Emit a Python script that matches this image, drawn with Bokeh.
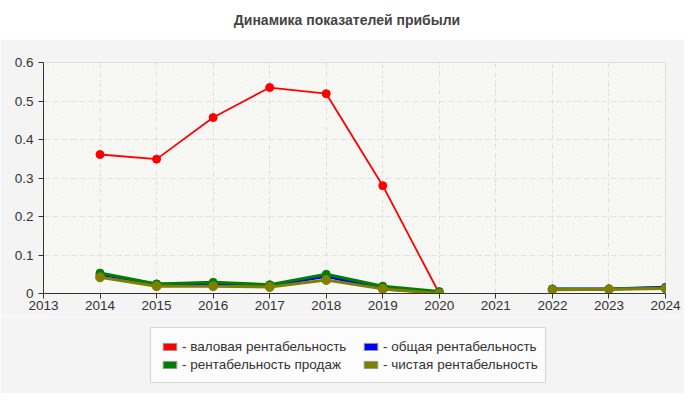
import numpy as np
from bokeh.plotting import figure
from bokeh.models import (ColumnDataSource, FixedTicker, Legend, LegendItem,
                          BoxAnnotation, Div, Range1d)
from bokeh.layouts import column
from bokeh.embed import file_html
from bokeh.resources import INLINE

nan = float("nan")
title_text = "Динамика показателей прибыли"
years = [2014, 2015, 2016, 2017, 2018, 2019, 2020, 2021, 2022, 2023, 2024]
gross = [0.361, 0.349, 0.457, 0.535, 0.519, 0.280, 0.0, nan, nan, nan, nan]
overall = [0.050, 0.024, 0.025, 0.020, 0.045, 0.012, 0.003, nan, 0.012, 0.012, 0.016]
sales = [0.053, 0.025, 0.029, 0.023, 0.050, 0.019, 0.005, nan, 0.011, 0.012, 0.014]
net = [0.042, 0.019, 0.019, 0.017, 0.035, 0.012, 0.0, nan, 0.010, 0.011, 0.013]
x_ticks = [2013, 2014, 2015, 2016, 2017, 2018, 2019, 2020, 2021, 2022, 2023, 2024]
y_ticks = [0, 0.1, 0.2, 0.3, 0.4, 0.5, 0.6]
y_labels = ["0", "0.1", "0.2", "0.3", "0.4", "0.5", "0.6"]
labels_col1 = ["- валовая рентабельность", "- рентабельность продаж"]
labels_col2 = ["- общая рентабельность", "- чистая рентабельность"]
colors_col1 = ["#ff0000", "#008000"]
colors_col2 = ["#0000ff", "#808000"]

FONT = "Liberation Sans"
PANEL = "#f4f4f4"

p = figure(width=684, height=277, x_range=Range1d(2013, 2024), y_range=Range1d(0, 0.6),
           output_backend="svg", toolbar_location=None,
           min_border_left=43, min_border_right=19, min_border_top=23, min_border_bottom=23)
p.border_fill_color = PANEL
p.background_fill_color = "#fdfdf8"
p.outline_line_color = "#dddddd"

p.add_layout(BoxAnnotation(fill_alpha=0, line_alpha=0, hatch_pattern="/",
                           hatch_color="#eeeeee", hatch_scale=5, hatch_weight=1,
                           level="underlay"))

for ax in (p.xaxis[0], p.yaxis[0]):
    ax.axis_line_color = "#333333"
    ax.major_tick_line_color = "#333333"
    ax.major_tick_out = 5
    ax.major_tick_in = 0
    ax.minor_tick_line_color = None
    ax.major_label_text_font = FONT
    ax.major_label_text_font_size = "13.5px"
    ax.major_label_text_color = "#333333"
p.xaxis[0].ticker = FixedTicker(ticks=x_ticks)
p.xaxis[0].major_label_overrides = {t: str(t) for t in x_ticks}
p.xaxis[0].major_label_standoff = 2
p.yaxis[0].ticker = FixedTicker(ticks=y_ticks)
p.yaxis[0].major_label_overrides = dict(zip(y_ticks, y_labels))
p.yaxis[0].major_label_standoff = 5

p.xgrid[0].ticker = FixedTicker(ticks=x_ticks)
p.ygrid[0].ticker = FixedTicker(ticks=y_ticks)
for g in (p.xgrid[0], p.ygrid[0]):
    g.grid_line_color = "#dadada"
    g.grid_line_dash = "6 3"

src = ColumnDataSource(data=dict(x=years, gross=gross, overall=overall, sales=sales, net=net))

series = [("gross", "#ff0000", 1.8, 8), ("overall", "#0000ff", 3, 8),
          ("sales", "#008000", 3, 8), ("net", "#808000", 3, 9)]
for col, c, w, s in series:
    p.line("x", col, source=src, line_color=c, line_width=w)
    p.scatter("x", col, source=src, size=s, fill_color=c, line_color=c)

# legend lives in its own strip so it is not clipped by the plot frame
lf = figure(width=684, height=77, x_range=Range1d(0, 1), y_range=Range1d(0, 1),
            output_backend="svg", toolbar_location=None,
            x_axis_type=None, y_axis_type=None,
            min_border_left=0, min_border_right=0, min_border_top=0, min_border_bottom=0)
lf.grid.visible = False
lf.outline_line_color = None
lf.background_fill_color = PANEL
lf.border_fill_color = PANEL

# swatch-only renderers (NaN geometry: nothing is drawn in the strip itself)
sw_src = ColumnDataSource(data=dict(l=[nan], r=[nan], t=[nan], b=[nan]))


def make_items(labels, colors):
    out = []
    for lab, c in zip(labels, colors):
        r = lf.quad(left="l", right="r", top="t", bottom="b", source=sw_src,
                    fill_color=c, line_color="#999999")
        out.append(LegendItem(label=lab, renderers=[r]))
    return out


common = dict(glyph_width=17, glyph_height=9, label_standoff=4,
              label_text_font=FONT, label_text_font_size="13.5px",
              label_text_color="#333333", padding=10, spacing=2, label_height=16,
              margin=0)

legend_a = Legend(items=make_items(labels_col1, colors_col1), location=(107, 10),
                  label_width=353, border_line_color="#b0b0b0",
                  background_fill_color="#fcfcfc", background_fill_alpha=1, **common)
legend_b = Legend(items=make_items(labels_col2, colors_col2), location=(319, 21),
                  border_line_color=None, background_fill_alpha=0, **common)
lf.add_layout(legend_a)
lf.add_layout(legend_b)

title = Div(text=title_text, width=684, height=29,
            styles={"text-align": "center", "font-family": FONT, "font-weight": "bold",
                    "font-size": "14px", "color": "#444444", "line-height": "30px",
                    "width": "684px"})

layout = column(title, p, lf, spacing=0)
open("out.html", "w").write(file_html(layout, INLINE))
